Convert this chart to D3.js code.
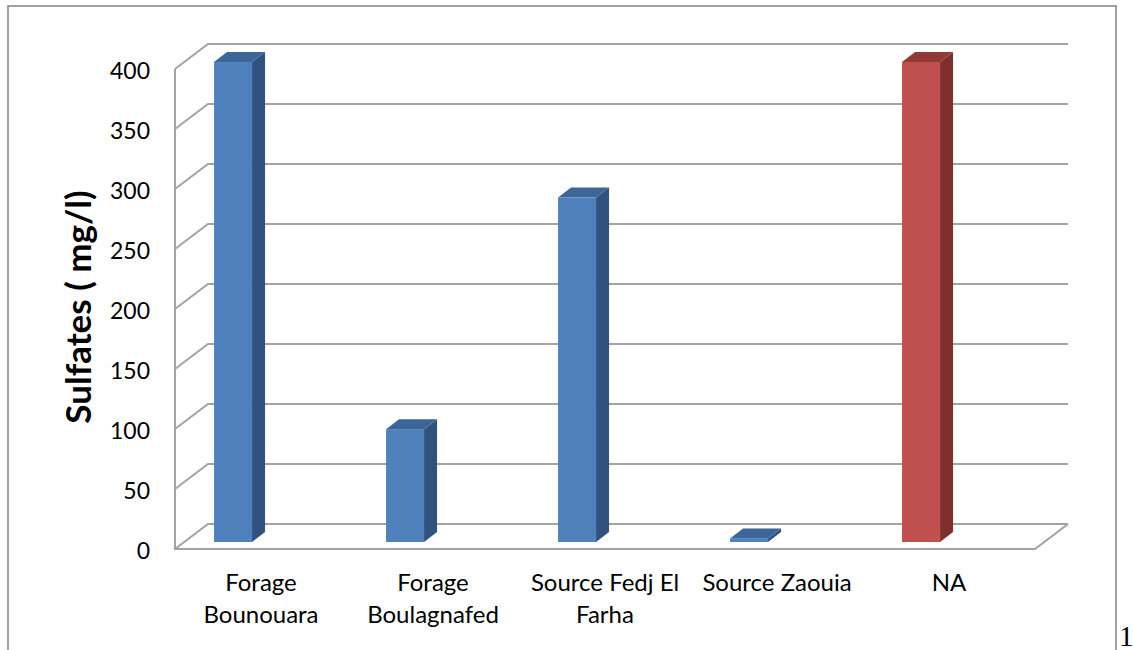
<!DOCTYPE html>
<html>
<head>
<meta charset="utf-8">
<script src="https://cdn.jsdelivr.net/npm/d3@7"></script>
<style>
  html, body { margin: 0; padding: 0; background: #ffffff; }
  svg { display: block; }
</style>
</head>
<body>
<svg id="chart" width="1133" height="650"></svg>
<script>
// Sulfate concentration per sampling point
const categories = ["Forage Bounouara", "Forage Boulagnafed", "Source Fedj El Farha", "Source Zaouia", "NA"];
const sulfates = [400, 94, 287, 3, 400];
const yTicks = [0, 50, 100, 150, 200, 250, 300, 350, 400];
const yTitle = "Sulfates ( mg/l)";
const normCategory = "NA";

const svg = d3.select("#chart");
const W = 1133, H = 650;

// Outer frame
svg.append("rect")
  .attr("x", 8).attr("y", 6)
  .attr("width", 1108).attr("height", H + 10)
  .attr("fill", "none").attr("stroke", "#8a8a8a").attr("stroke-width", 1.6);

// Page number at the bottom right
svg.append("text")
  .attr("x", 1119).attr("y", 646)
  .attr("font-family", "Liberation Serif, Times New Roman, serif")
  .attr("font-size", 29).attr("fill", "#000")
  .text("1");

// Plot geometry: front plane of the 3D box plus a depth offset for the back wall
const left = 175, right = 1035, base = 549;
const depth = { dx: 33, dy: -25 };
const barDepth = { dx: 13, dy: -10 };
const barShiftY = -7;

const x = d3.scaleBand().domain(categories).range([left, right]).paddingInner(0).paddingOuter(0);
const y = d3.scaleLinear().domain([0, 400]).range([base, 69]);

const grid = svg.append("g")
  .attr("fill", "none")
  .attr("stroke", "#a3a3a3")
  .attr("stroke-width", 2);

// Back wall gridlines and side wall diagonals
yTicks.forEach(t => {
  const yf = y(t), yb = y(t) + depth.dy;
  grid.append("path")
    .attr("d", `M${left},${yf}L${left + depth.dx},${yb}L${right + depth.dx},${yb}`);
});
// Left wall front edge and floor outline
grid.append("path").attr("d", `M${left},${y(400)}L${left},${base}L${right},${base}L${right + depth.dx},${base + depth.dy}`);

// Y tick labels
const yAxis = svg.append("g")
  .attr("transform", `translate(${left},0)`)
  .call(d3.axisLeft(y).tickValues(yTicks).tickSize(0).tickPadding(25).tickFormat(d3.format("d")));
yAxis.select(".domain").remove();
yAxis.selectAll("text")
  .attr("font-family", "Lato, Carlito, Calibri, sans-serif")
  .attr("font-size", 23)
  .attr("fill", "#000")
  .attr("dy", "0.42em");

// Y axis title
svg.append("text")
  .attr("transform", "translate(91,307) rotate(-90)")
  .attr("text-anchor", "middle")
  .attr("font-family", "Lato, Carlito, Calibri, sans-serif")
  .attr("font-weight", "bold")
  .attr("font-size", 35)
  .attr("fill", "#000")
  .text(yTitle);

// 3D columns
const palette = {
  blue: { front: "#4f81bd", side: "#30527e", top: "#3c6598" },
  red:  { front: "#c0504d", side: "#7f302e", top: "#933936" }
};
const bw = x.bandwidth();
const bars = svg.append("g");
categories.forEach((c, i) => {
  const v = sulfates[i];
  const col = c === normCategory ? palette.red : palette.blue;
  const x0 = x(c) + bw * 0.227;
  const w = bw * 0.221;
  const yb = y(0) + barShiftY;
  const yt = y(v) + barShiftY;
  const g = bars.append("g");
  g.append("rect")
    .attr("x", x0).attr("y", yt)
    .attr("width", w).attr("height", yb - yt)
    .attr("fill", col.front);
  g.append("path")
    .attr("d", `M${x0 + w},${yt}L${x0 + w + barDepth.dx},${yt + barDepth.dy}L${x0 + w + barDepth.dx},${yb + barDepth.dy}L${x0 + w},${yb}Z`)
    .attr("fill", col.side);
  g.append("path")
    .attr("d", `M${x0},${yt}L${x0 + barDepth.dx},${yt + barDepth.dy}L${x0 + w + barDepth.dx},${yt + barDepth.dy}L${x0 + w},${yt}Z`)
    .attr("fill", col.top);
});

// Category labels, wrapped to the band width
const labelFont = "Lato, Carlito, Calibri, sans-serif";
const labels = svg.append("g")
  .attr("font-family", labelFont)
  .attr("font-size", 24)
  .attr("fill", "#000")
  .attr("text-anchor", "middle");

categories.forEach(c => {
  const cx = x(c) + bw / 2;
  const t = labels.append("text").attr("x", cx).attr("y", 591);
  const words = c.split(" ");
  let lines = [], line = [];
  const probe = labels.append("text").attr("visibility", "hidden");
  words.forEach(wd => {
    const test = line.concat(wd).join(" ");
    probe.text(test);
    if (line.length && probe.node().getComputedTextLength() > bw - 4) {
      lines.push(line.join(" "));
      line = [wd];
    } else {
      line.push(wd);
    }
  });
  lines.push(line.join(" "));
  probe.remove();
  lines.forEach((ln, k) => {
    t.append("tspan").attr("x", cx).attr("y", 591 + k * 32).text(ln);
  });
});
</script>
</body>
</html>
